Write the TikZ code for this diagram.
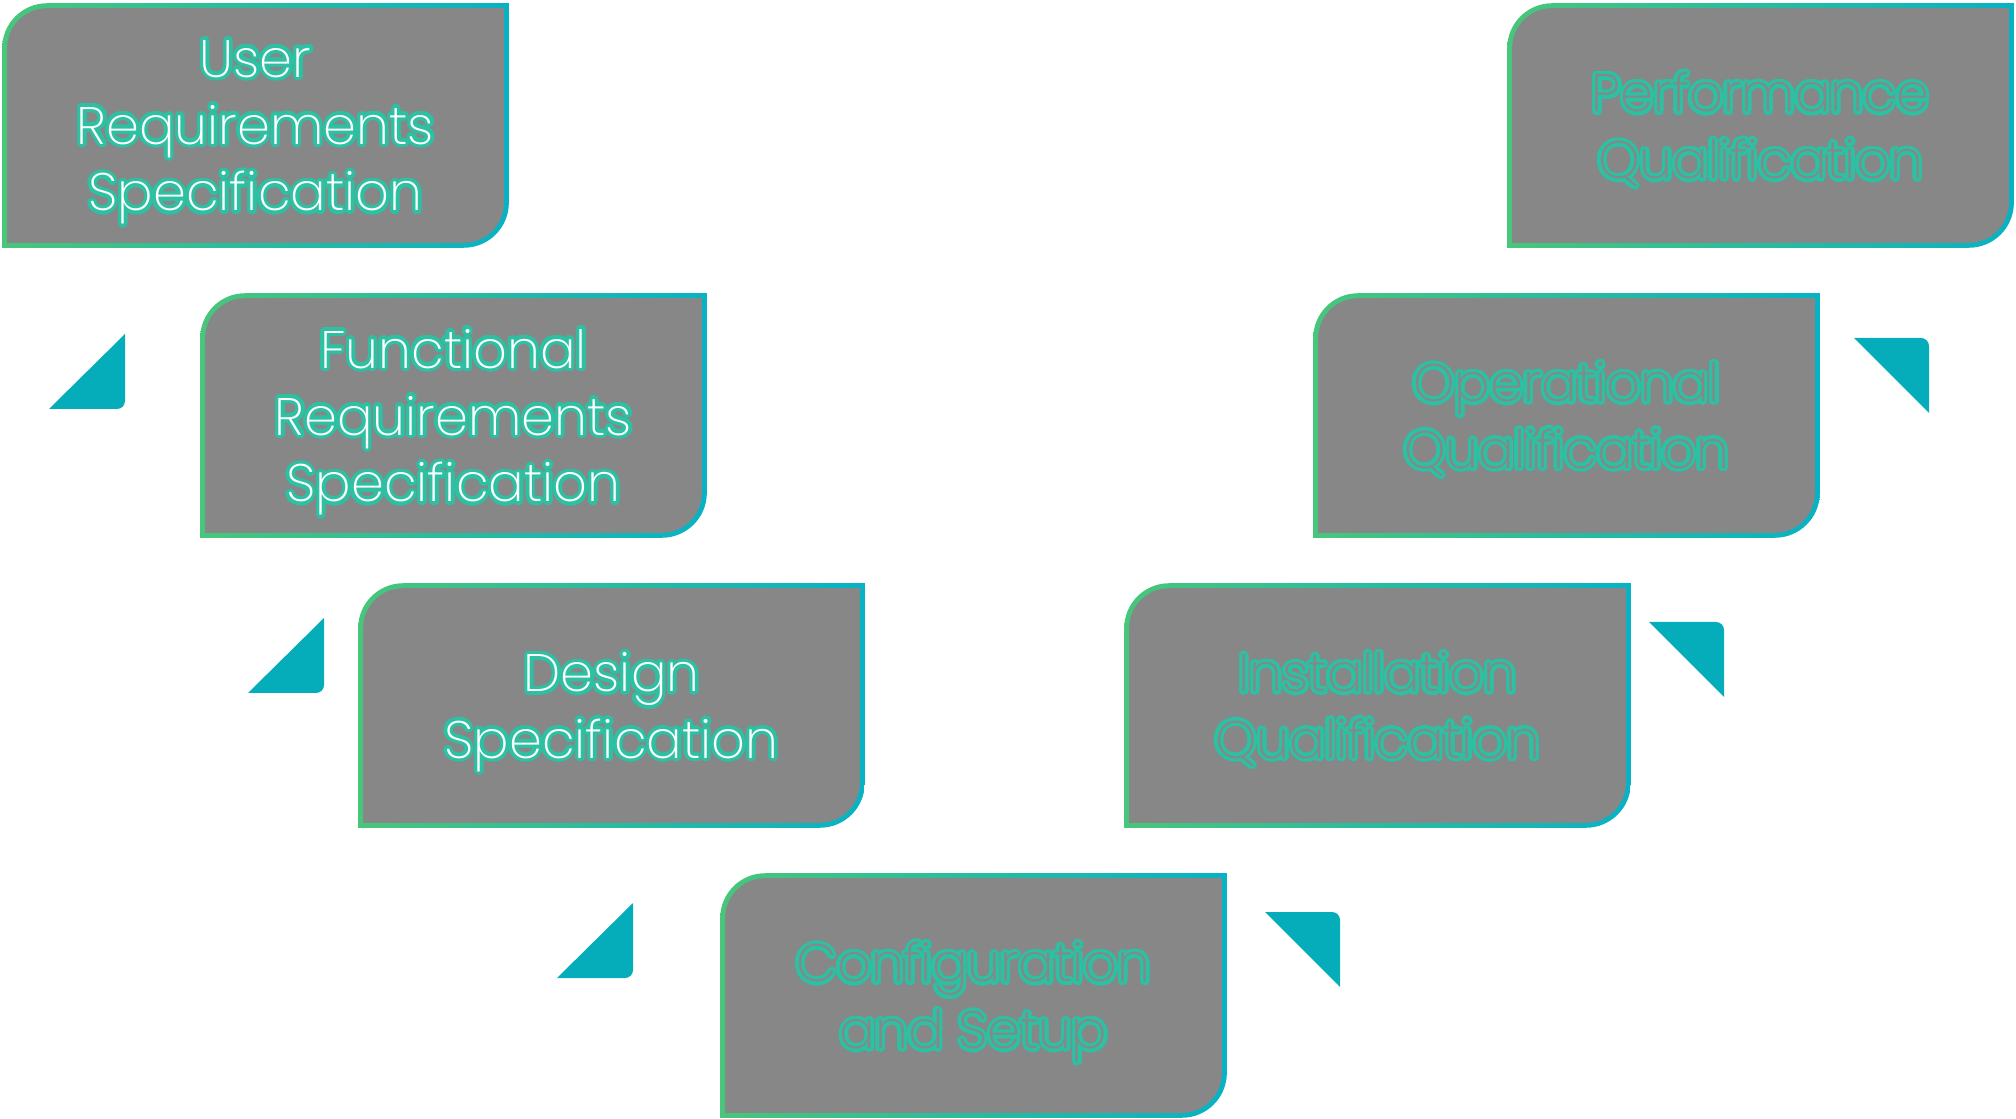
\documentclass[tikz,border=0pt]{standalone}
\usepackage{fontspec}
\setmainfont{Poppins}[UprightFont={* ExtraLight}]
\usepackage{contour}
\contourlength{1pt}
\usetikzlibrary{backgrounds}

\definecolor{vgreen}{HTML}{48C67A}
\definecolor{vcyan}{HTML}{08B2C4}
\definecolor{vtext}{HTML}{2DC0A2}
\definecolor{vgray}{HTML}{878787}
\definecolor{vtri}{HTML}{05ACB9}

\newcommand{\lit}[1]{\contour{vtext}{\color{white}#1}}
\newcommand{\hol}[1]{\contour{vtext}{\color{vgray}#1}}

\tikzset{
  stage/.style={minimum width=5.05cm, minimum height=2.43cm, inner sep=0pt,
    align=center, text depth=0pt, font=\fontsize{15}{19}\selectfont},
}

\begin{document}
\begin{tikzpicture}[x=0.01cm,y=0.01cm]
\useasboundingbox (0,0) rectangle (2016,1118);

\node[stage] (urs) at (255.5,992.5) {\lit{User}\\\lit{Requirements}\\\lit{Specification}};
\node[stage] (frs) at (453.5,702.5) {\lit{Functional}\\\lit{Requirements}\\\lit{Specification}};
\node[stage] (ds) at (611.5,412.5) {\lit{Design}\\\lit{Specification}};
\node[stage] (cs) at (973.5,122.5) {\hol{Configuration}\\\hol{and Setup}};
\node[stage] (iq) at (1377.5,412.5) {\hol{Installation}\\\hol{Qualification}};
\node[stage] (oq) at (1566.5,702.5) {\hol{Operational}\\\hol{Qualification}};
\node[stage] (pq) at (1760.5,992.5) {\hol{Performance}\\\hol{Qualification}};

\begin{scope}[on background layer]
\foreach \n in {urs,frs,ds,cs,iq,oq,pq} {
  \shade[left color=vgreen,right color=vcyan] (\n.south west) -- ([shift={(0,-45)}]\n.north west)
    arc[start angle=180,end angle=90,radius=45] -- (\n.north east) -- ([shift={(0,45)}]\n.south east)
    arc[start angle=0,end angle=-90,radius=45] -- cycle;
  \fill[vgray] ([shift={(5,5)}]\n.south west) -- ([shift={(5,-45)}]\n.north west)
    arc[start angle=180,end angle=90,radius=40] -- ([shift={(-5,-5)}]\n.north east) -- ([shift={(-5,45)}]\n.south east)
    arc[start angle=0,end angle=-90,radius=40] -- cycle;
}
\end{scope}

\foreach \cx/\cy in {125/709, 324/425, 633/140}
  \fill[vtri] (\cx-76,\cy) -- (\cx-8,\cy) arc[start angle=-90,end angle=0,radius=8] -- (\cx,\cy+75) -- cycle;
\foreach \cx/\cy in {1929/780, 1724/496, 1340/206}
  \fill[vtri] (\cx-75,\cy) -- (\cx-8,\cy) arc[start angle=90,end angle=0,radius=8] -- (\cx,\cy-75) -- cycle;

\end{tikzpicture}
\end{document}
